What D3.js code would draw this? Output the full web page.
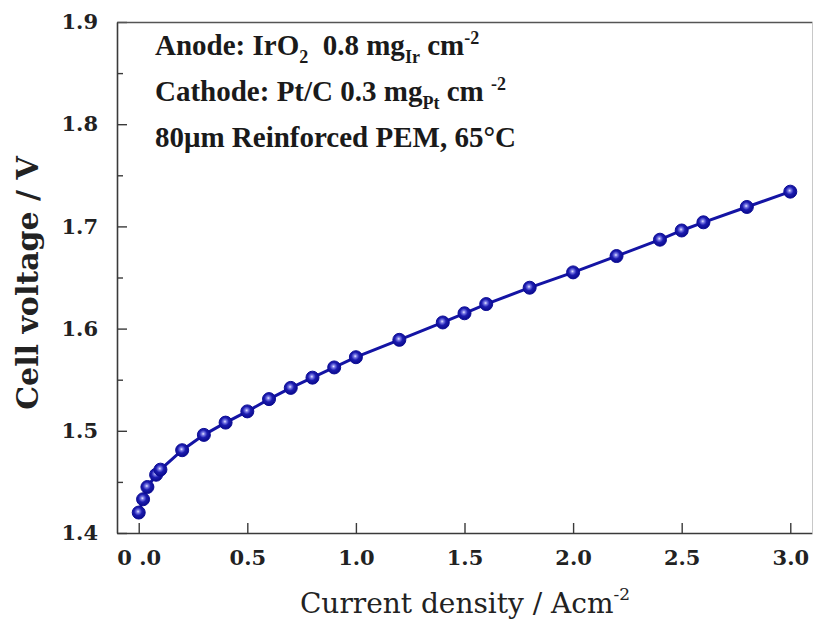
<!DOCTYPE html>
<html><head><meta charset="utf-8">
<script src="https://cdn.jsdelivr.net/npm/d3@7/dist/d3.min.js"></script>
<style>body{margin:0;background:#fff} svg{display:block}</style>
</head><body><svg id="chart" width="813" height="627"></svg>
<script>
// ---- data ----
const currentDensity = [0, 0.02, 0.04, 0.08, 0.1, 0.2, 0.3, 0.4, 0.5, 0.6, 0.7, 0.8, 0.9, 1.0, 1.2, 1.4, 1.5, 1.6, 1.8, 2.0, 2.2, 2.4, 2.5, 2.6, 2.8, 3.0];
const cellVoltage    = [1.420, 1.433, 1.445, 1.457, 1.462, 1.481, 1.496, 1.508, 1.519, 1.531, 1.542, 1.552, 1.562, 1.572, 1.589, 1.606, 1.615, 1.624, 1.640, 1.655, 1.671, 1.687, 1.696, 1.704, 1.719, 1.734];
const xTickValues = [0, 0.5, 1.0, 1.5, 2.0, 2.5, 3.0];
const xTickLabels = ["0 .0", "0.5", "1.0", "1.5", "2.0", "2.5", "3.0"];
const yTickValues = [1.4, 1.5, 1.6, 1.7, 1.8, 1.9];
const yTickLabels = ["1.4", "1.5", "1.6", "1.7", "1.8", "1.9"];
const yMinorTicks = [1.45, 1.55, 1.65, 1.75, 1.85];
const xDomain = [-0.1, 3.1];
const yDomain = [1.4, 1.9];

// ---- layout ----
const svg = d3.select("#chart");
const L = 117, R = 812, T = 22, B = 533;
const x = d3.scaleLinear().domain(xDomain).range([L, R]);
const y = d3.scaleLinear().domain(yDomain).range([B, T]);
const axisColor = "#3a3a3a";

const defs = svg.append("defs");
const grad = defs.append("radialGradient").attr("id", "ball")
  .attr("cx", "45%").attr("cy", "42%").attr("r", "60%");
grad.append("stop").attr("offset", "0%").attr("stop-color", "#e8eaff");
grad.append("stop").attr("offset", "20%").attr("stop-color", "#7a7ae6");
grad.append("stop").attr("offset", "50%").attr("stop-color", "#1c1cb0");
grad.append("stop").attr("offset", "100%").attr("stop-color", "#080888");

const tickFont = "'DejaVu Serif', serif";

// x axis
const xAxis = d3.axisBottom(x).tickValues(xTickValues)
  .tickFormat((d, i) => xTickLabels[i]).tickSizeInner(-10).tickSizeOuter(0).tickPadding(17);
const gx = svg.append("g").attr("transform", `translate(0,${B})`).call(xAxis);
gx.select(".domain").attr("stroke", axisColor).attr("stroke-width", 1.6);
gx.selectAll(".tick line").attr("stroke", axisColor).attr("stroke-width", 1.4);
gx.selectAll(".tick text").attr("font-family", tickFont).attr("font-weight", "bold")
  .attr("font-size", 21).attr("fill", "#222").style("white-space", "pre");

// y axis
const yAxis = d3.axisLeft(y).tickValues(yTickValues)
  .tickFormat((d, i) => yTickLabels[i]).tickSizeInner(-10).tickSizeOuter(0).tickPadding(19);
const gy = svg.append("g").attr("transform", `translate(${L},0)`).call(yAxis);
gy.select(".domain").attr("stroke", axisColor).attr("stroke-width", 1.6);
gy.selectAll(".tick line").attr("stroke", axisColor).attr("stroke-width", 1.4);
gy.selectAll(".tick text").attr("font-family", tickFont).attr("font-weight", "bold")
  .attr("font-size", 21).attr("fill", "#222");

const yMinor = d3.axisLeft(y).tickValues(yMinorTicks).tickFormat("").tickSizeInner(-6).tickSizeOuter(0);
const gym = svg.append("g").attr("transform", `translate(${L},0)`).call(yMinor);
gym.select(".domain").remove();
gym.selectAll(".tick line").attr("stroke", axisColor).attr("stroke-width", 1.4);

// top and right frame lines
const xTop = d3.axisTop(x).tickValues([]).tickSizeOuter(0);
const gt = svg.append("g").attr("transform", `translate(0,${T})`).call(xTop);
gt.select(".domain").attr("stroke", "#555").attr("stroke-width", 1.6);
const yRight = d3.axisRight(y).tickValues([]).tickSizeOuter(0);
const gr = svg.append("g").attr("transform", `translate(${R},0)`).call(yRight);
gr.select(".domain").attr("stroke", "#c8c8c8").attr("stroke-width", 1);

// data line
const pts = currentDensity.map((d, i) => [d, cellVoltage[i]]);
svg.append("path").datum(pts)
  .attr("fill", "none").attr("stroke", "#1414a4").attr("stroke-width", 3)
  .attr("d", d3.line().x(d => x(d[0])).y(d => y(d[1])));
svg.append("g").selectAll("circle").data(pts).join("circle")
  .attr("cx", d => x(d[0])).attr("cy", d => y(d[1])).attr("r", 6.5)
  .attr("fill", "url(#ball)").attr("stroke", "#0c0c96").attr("stroke-width", 1);

// axis titles
svg.append("text")
  .attr("transform", `translate(38,283) rotate(-90)`)
  .attr("text-anchor", "middle").attr("font-family", tickFont).attr("font-weight", "bold")
  .attr("font-size", 30).attr("fill", "#222").text("Cell voltage / V");

const xt = svg.append("text").attr("x", 465).attr("y", 613).attr("text-anchor", "middle")
  .attr("font-family", tickFont).attr("font-size", 28).attr("fill", "#222");
xt.append("tspan").text("Current density / Acm");
xt.append("tspan").attr("dy", -13).attr("font-size", 17).text("-2");

// annotation
const annFont = "'Liberation Serif', 'Times New Roman', serif";
function ann(yb, parts) {
  const t = svg.append("text").attr("x", 155).attr("y", yb)
    .attr("font-family", annFont).attr("font-weight", "bold").attr("font-size", 29)
    .attr("fill", "#1a1a1a").style("white-space", "pre");
  let shift = 0;
  parts.forEach(p => {
    const target = p.sub ? 8 : p.sup ? -11 : 0;
    const s = t.append("tspan").attr("dy", target - shift).text(p.t);
    if (p.sub || p.sup) s.attr("font-size", 18);
    shift = target;
  });
}
ann(55, [{t: "Anode: IrO"}, {t: "2", sub: 1}, {t: "  0.8 mg"}, {t: "Ir", sub: 1}, {t: " cm"}, {t: "-2", sup: 1}]);
ann(101, [{t: "Cathode: Pt/C 0.3 mg"}, {t: "Pt", sub: 1}, {t: " cm "}, {t: "-2", sup: 1}]);
ann(147, [{t: "80μm Reinforced PEM, 65°C"}]);
</script>
</body></html>
